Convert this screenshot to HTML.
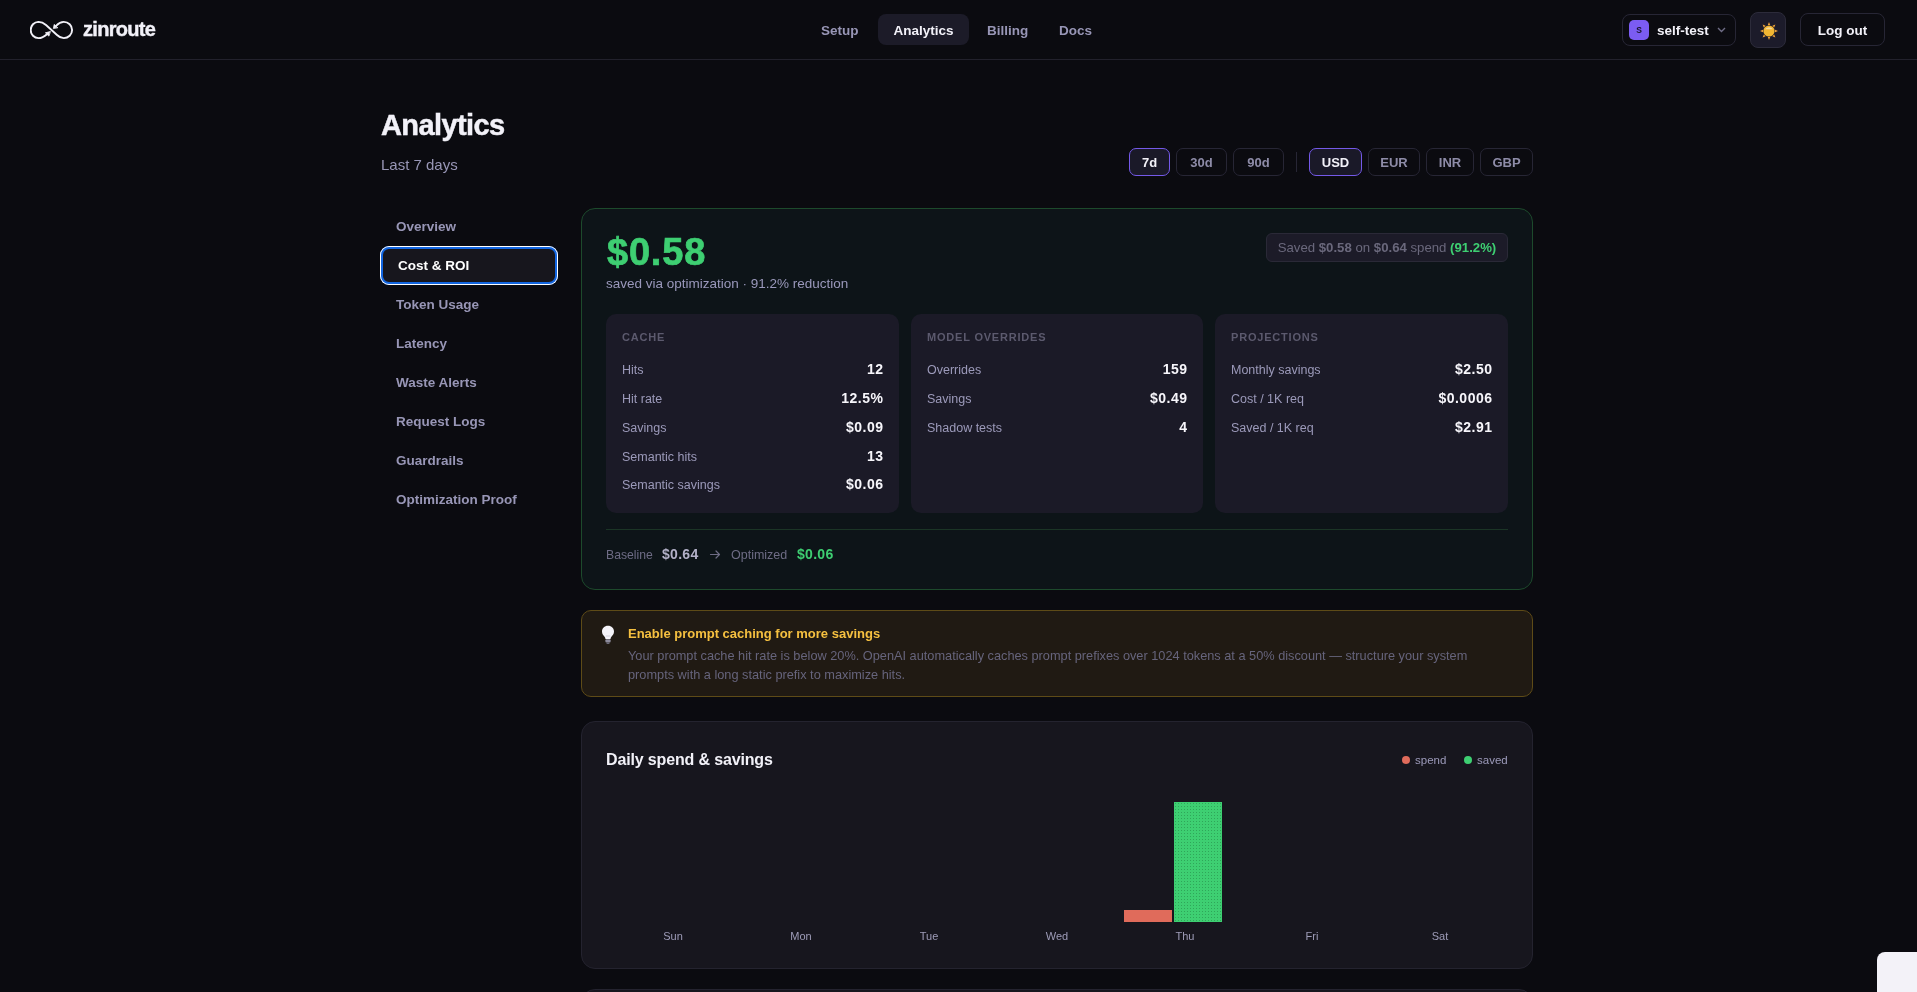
<!DOCTYPE html>
<html><head><meta charset="utf-8">
<style>
*{box-sizing:border-box;margin:0;padding:0}
html,body{width:1917px;height:992px;overflow:hidden;background:#0b0b10;-webkit-font-smoothing:antialiased;font-family:"Liberation Sans",sans-serif;color:#f2f1f8}
.a{position:absolute;white-space:nowrap}
.nav{position:absolute;left:0;top:0;width:1917px;height:60px;border-bottom:1px solid #22212c;background:#0b0b10}
.nl{position:absolute;top:14px;height:31px;line-height:33px;font-size:13.5px;font-weight:600;color:#9896b6}
.pill{background:#1c1b28;border-radius:8px;color:#f2f1f8;text-align:center}
.btn{position:absolute;top:148px;height:28px;border:1px solid #272635;border-radius:7px;font-size:13px;font-weight:700;color:#8e8ca8;text-align:center;line-height:27px}
.btn.on{border-color:#7459e8;background:#1a1928;color:#f2f1f8}
.side{position:absolute;left:396px;font-size:13.5px;font-weight:700;color:#9896b6;line-height:16px}
.card{position:absolute;border-radius:14px}
.ic{position:absolute;top:314px;height:199px;background:#1b1a27;border-radius:10px}
.ict{position:absolute;left:16px;top:17px;font-size:11px;font-weight:700;letter-spacing:0.8px;color:#5c5a6e}
.row{position:absolute;left:16px;right:16px;height:16px;font-size:12.5px;line-height:16px}
.row .l{position:absolute;left:0;top:1px;color:#9c9aba}
.row .v{position:absolute;right:-0.5px;font-weight:700;font-size:14px;letter-spacing:0.5px;color:#f7f6fb}
.day{position:absolute;top:930px;font-size:11px;color:#9e9cb8;width:60px;text-align:center}
</style></head><body><div id="root" style="position:absolute;left:0;top:0;width:1917px;height:992px;will-change:transform">

<div class="nav">
  <svg class="a" style="left:30px;top:20px" width="44" height="20" viewBox="0 0 44 20" fill="none" stroke="#f2f1f8" stroke-width="1.9" stroke-linecap="round" stroke-linejoin="round">
    <path d="M8.5 1.9 C11.5 1.9 13.6 2.9 16 5 L27 15 C28.8 16.8 31 18.1 33.8 18.1 A8.3 8.1 0 0 0 33.8 1.9 C30.8 1.9 28.4 3.4 26 5.8"/>
    <path d="M8.5 1.9 A7.8 8.1 0 0 0 8.5 18.1 C11.5 18.1 14 16.9 17 14.2"/>
    <path d="M20.1 11.6 L15.4 12.8 L18.7 15.9 Z M23.4 8.3 L24.2 4.4 L27.6 7.5 Z" fill="#f2f1f8" stroke-width="0.8"/>
  </svg>
  <div class="a" style="left:83px;top:18px;font-size:20px;font-weight:700;letter-spacing:-0.7px;line-height:22px;-webkit-text-stroke:0.4px #f2f1f8">zinroute</div>

  <div class="nl" style="left:821px">Setup</div>
  <div class="nl pill" style="left:878px;width:91px">Analytics</div>
  <div class="nl" style="left:987px">Billing</div>
  <div class="nl" style="left:1059px">Docs</div>

  <div class="a" style="left:1622px;top:14px;width:114px;height:32px;border:1px solid #272635;border-radius:8px"></div>
  <div class="a" style="left:1629px;top:20px;width:20px;height:20px;background:#7b5cf2;border-radius:5px;font-size:8.5px;font-weight:700;color:#17142a;text-align:center;line-height:21px">S</div>
  <div class="a" style="left:1657px;top:23px;font-size:13.5px;font-weight:700;line-height:16px">self-test</div>
  <svg class="a" style="left:1717px;top:27px" width="9" height="6" viewBox="0 0 9 6" fill="none" stroke="#6f6d86" stroke-width="1.4"><path d="M1 1 L4.5 4.5 L8 1"/></svg>

  <div class="a" style="left:1750px;top:12px;width:36px;height:36px;background:#1c1b2a;border:1px solid #2c2b3a;border-radius:8px"></div>
  <svg class="a" style="left:1759px;top:21px" width="20" height="20" viewBox="0 0 20 20">
    <g fill="#f0a23a"><polygon points="10,1 11.2,4 8.8,4"/><polygon points="10,19 11.2,16 8.8,16"/><polygon points="1,10 4,11.2 4,8.8"/><polygon points="19,10 16,11.2 16,8.8"/>
    <polygon points="3.6,3.6 6.6,4.8 4.8,6.6"/><polygon points="16.4,3.6 13.4,4.8 15.2,6.6"/><polygon points="3.6,16.4 6.6,15.2 4.8,13.4"/><polygon points="16.4,16.4 13.4,15.2 15.2,13.4"/></g>
    <circle cx="10" cy="10" r="5.6" fill="#f2b632"/><path d="M6 8.3 A5 5 0 0 1 14 8.3 Z" fill="#f6e3b8" opacity=".8"/>
  </svg>

  <div class="a" style="left:1800px;top:13px;width:85px;height:33px;border:1px solid #272635;border-radius:8px;font-size:13.5px;font-weight:700;text-align:center;line-height:33px">Log out</div>
</div>

<div class="a" style="left:381px;top:106px;font-size:29px;font-weight:700;letter-spacing:-0.6px;line-height:38px;-webkit-text-stroke:0.5px #f2f1f8">Analytics</div>
<div class="a" style="left:381px;top:156px;font-size:15px;color:#9896b6;line-height:18px">Last 7 days</div>

<div class="btn on" style="left:1129px;width:41px">7d</div>
<div class="btn" style="left:1176px;width:51px">30d</div>
<div class="btn" style="left:1233px;width:51px">90d</div>
<div class="a" style="left:1296px;top:152px;width:1px;height:20px;background:#272635"></div>
<div class="btn on" style="left:1309px;width:53px">USD</div>
<div class="btn" style="left:1368px;width:52px">EUR</div>
<div class="btn" style="left:1426px;width:48px">INR</div>
<div class="btn" style="left:1480px;width:53px">GBP</div>

<!-- sidebar -->
<div class="side" style="top:219px">Overview</div>
<div class="a" style="left:380px;top:246px;width:178px;height:39px;border-radius:9px;background:#17161d;box-shadow:0 0 0 1px #fff inset, 0 0 0 3px #1265e0 inset"></div>
<div class="side" style="left:398px;top:258px;color:#fff">Cost &amp; ROI</div>
<div class="side" style="top:297px">Token Usage</div>
<div class="side" style="top:336px">Latency</div>
<div class="side" style="top:375px">Waste Alerts</div>
<div class="side" style="top:414px">Request Logs</div>
<div class="side" style="top:453px">Guardrails</div>
<div class="side" style="top:492px">Optimization Proof</div>

<!-- cost card -->
<div class="card" style="left:581px;top:208px;width:952px;height:382px;background:#0d1418;border:1px solid #1d4a2c"></div>
<div class="a" style="left:607px;top:229px;font-size:38px;font-weight:700;color:#3ecf72;letter-spacing:0.8px;line-height:46px;-webkit-text-stroke:0.7px #3ecf72">$0.58</div>
<div class="a" style="left:606px;top:276px;font-size:13.5px;color:#9a98bb;line-height:16px">saved via optimization · 91.2% reduction</div>
<div class="a" style="left:1266px;top:233px;width:242px;height:29px;background:#1c1b28;border:1px solid #2a2937;border-radius:6px;font-size:13.2px;color:#6a687c;text-align:center;line-height:27px">Saved <b>$0.58</b> on <b>$0.64</b> spend <b style="color:#3ecf72">(91.2%)</b></div>

<div class="ic" style="left:606px;width:293px">
  <div class="ict">CACHE</div>
  <div class="row" style="top:47px"><span class="l">Hits</span><span class="v">12</span></div>
  <div class="row" style="top:76px"><span class="l">Hit rate</span><span class="v">12.5%</span></div>
  <div class="row" style="top:105px"><span class="l">Savings</span><span class="v">$0.09</span></div>
  <div class="row" style="top:134px"><span class="l">Semantic hits</span><span class="v">13</span></div>
  <div class="row" style="top:162px"><span class="l">Semantic savings</span><span class="v">$0.06</span></div>
</div>
<div class="ic" style="left:911px;width:292px">
  <div class="ict">MODEL OVERRIDES</div>
  <div class="row" style="top:47px"><span class="l">Overrides</span><span class="v">159</span></div>
  <div class="row" style="top:76px"><span class="l">Savings</span><span class="v">$0.49</span></div>
  <div class="row" style="top:105px"><span class="l">Shadow tests</span><span class="v">4</span></div>
</div>
<div class="ic" style="left:1215px;width:293px">
  <div class="ict">PROJECTIONS</div>
  <div class="row" style="top:47px"><span class="l">Monthly savings</span><span class="v">$2.50</span></div>
  <div class="row" style="top:76px"><span class="l">Cost / 1K req</span><span class="v">$0.0006</span></div>
  <div class="row" style="top:105px"><span class="l">Saved / 1K req</span><span class="v">$2.91</span></div>
</div>
<div class="a" style="left:606px;top:529px;width:902px;height:1px;background:#1b3526"></div>
<div class="a" style="left:606px;top:547px;font-size:12.2px;line-height:16px;color:#6e6c85">Baseline</div>
<div class="a" style="left:662px;top:546px;font-size:14px;font-weight:700;letter-spacing:0.3px;line-height:16px;color:#b3b1c8">$0.64</div>
<svg class="a" style="left:709px;top:549px" width="12" height="11" viewBox="0 0 12 11" fill="none" stroke="#6e6c85" stroke-width="1.2" stroke-linecap="round" stroke-linejoin="round"><path d="M1.5 5.5 H10.5 M7 2 L10.5 5.5 L7 9"/></svg>
<div class="a" style="left:731px;top:547px;font-size:12.5px;line-height:16px;color:#6e6c85">Optimized</div>
<div class="a" style="left:797px;top:546px;font-size:14px;font-weight:700;letter-spacing:0.3px;line-height:16px;color:#3ecf72">$0.06</div>

<!-- alert -->
<div class="card" style="left:581px;top:610px;width:952px;height:87px;background:#201a13;border:1px solid #5e4b17;border-radius:10px"></div>
<svg class="a" style="left:601px;top:625px" width="14" height="20" viewBox="0 0 14 20"><path d="M7 0.8 C3.4 0.8 1 3.3 1 6.6 C1 9 2.3 10.4 3.4 11.6 C4.2 12.5 4.4 13.2 4.4 14 H9.6 C9.6 13.2 9.8 12.5 10.6 11.6 C11.7 10.4 13 9 13 6.6 C13 3.3 10.6 0.8 7 0.8 Z" fill="#f4f3f8"/><path d="M4.8 11 H9.2" stroke="#c9c7d4" stroke-width=".8"/><rect x="4.4" y="14.2" width="5.2" height="3.4" rx="1" fill="#8d8b9c"/><rect x="5.4" y="17.4" width="3.2" height="1.6" rx=".8" fill="#6a6878"/></svg>
<div class="a" style="left:628px;top:626px;font-size:13px;font-weight:700;color:#f5c040;line-height:16px">Enable prompt caching for more savings</div>
<div class="a" style="left:628px;top:646px;width:900px;font-size:12.75px;color:#66647c;line-height:19px">Your prompt cache hit rate is below 20%. OpenAI automatically caches prompt prefixes over 1024 tokens at a 50% discount — structure your system<br>prompts with a long static prefix to maximize hits.</div>

<!-- chart -->
<div class="card" style="left:581px;top:721px;width:952px;height:248px;background:#17161e;border:1px solid #24232f"></div>
<div class="a" style="left:606px;top:750px;font-size:16px;font-weight:700;letter-spacing:-0.15px;line-height:20px">Daily spend &amp; savings</div>
<div class="a" style="left:1402px;top:756px;width:8px;height:8px;border-radius:50%;background:#e06b5b"></div>
<div class="a" style="left:1415px;top:753px;font-size:11.5px;color:#9c9aba;line-height:14px">spend</div>
<div class="a" style="left:1464px;top:756px;width:8px;height:8px;border-radius:50%;background:#3ecf72"></div>
<div class="a" style="left:1477px;top:753px;font-size:11.5px;color:#9c9aba;line-height:14px">saved</div>
<div class="a" style="left:1124px;top:910px;width:48px;height:12px;background:#e06b5b"></div>
<div class="a" style="left:1174px;top:802px;width:48px;height:120px;background:#3ecf72 radial-gradient(rgba(20,90,45,.35) .6px, transparent .9px) 0 0/3px 3px"></div>
<div class="day" style="left:643px">Sun</div>
<div class="day" style="left:771px">Mon</div>
<div class="day" style="left:899px">Tue</div>
<div class="day" style="left:1027px">Wed</div>
<div class="day" style="left:1155px">Thu</div>
<div class="day" style="left:1282px">Fri</div>
<div class="day" style="left:1410px">Sat</div>

<div class="card" style="left:581px;top:989px;width:952px;height:60px;background:#17161e;border:1px solid #24232f"></div>
<div class="a" style="left:1877px;top:952px;width:60px;height:60px;background:#f3f2f8;border-radius:8px"></div>
</div></body></html>
